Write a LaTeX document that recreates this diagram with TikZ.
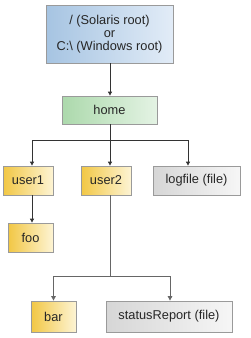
\documentclass[tikz,border=0pt]{standalone}
\usepackage{fontspec}
\setmainfont{Liberation Sans}
\usetikzlibrary{arrows.meta}
\definecolor{bluedark}{HTML}{A6C4E2}
\definecolor{bluelight}{HTML}{E2ECF7}
\definecolor{greendark}{HTML}{ACD9AC}
\definecolor{greenlight}{HTML}{E4F3E4}
\definecolor{yeldark}{HTML}{F2C744}
\definecolor{yellight}{HTML}{FDF4D4}
\definecolor{greydark}{HTML}{D6D6D6}
\definecolor{greylight}{HTML}{F6F6F6}
\definecolor{edge}{HTML}{9A9A9A}
\begin{document}
\begin{tikzpicture}[x=1pt,y=-1pt,
  box/.style={draw=edge, line width=0.8pt, rectangle, inner sep=0pt, align=center,
    font=\fontsize{12.8}{13}\selectfont, text=black!85},
  dirblue/.style={box, left color=bluedark, right color=bluelight},
  dirgreen/.style={box, left color=greendark, right color=greenlight},
  diryel/.style={box, left color=yeldark, right color=yellight},
  filegrey/.style={box, left color=greydark, right color=greylight},
  arr/.style={draw=black!80, line width=0.8pt, -{Triangle[length=4pt,width=4pt]}},
  arrg/.style={draw=black!60, line width=0.9pt, -{Triangle[length=4.5pt,width=4.5pt]}}
]
\useasboundingbox (0,0) rectangle (250,338);
\node[dirblue, minimum width=127pt, minimum height=58pt] (root) at (109.5,34)
  {/ (Solaris root)\\or\\C:\textbackslash\ (Windows root)};
\node[dirgreen, minimum width=95pt, minimum height=28pt] (home) at (109.5,110) {home};
\node[diryel, minimum width=50pt, minimum height=29pt] (user1) at (28,180.5) {user1};
\node[diryel, minimum width=50pt, minimum height=29pt] (user2) at (106,180.5) {user2};
\node[filegrey, minimum width=87pt, minimum height=29pt] (logfile) at (196.5,180.5) {logfile (file)};
\node[diryel, minimum width=45pt, minimum height=29pt] (foo) at (30.5,237.5) {foo};
\node[diryel, minimum width=45pt, minimum height=31pt] (bar) at (53.5,316.5) {bar};
\node[filegrey, minimum width=126pt, minimum height=31pt] (status) at (169,316.5) {statusReport (file)};

\coordinate (j1) at (110,140);
\coordinate (j2) at (110,276);

\draw[arr] (root.south -| j1) -- (home.north -| j1);
\draw[arr] (home.south -| j1) -- (j1) -| ([xshift=4pt]user1.north);
\draw[arr] (j1) -- (user2.north -| j1);
\draw[arr] (j1) -| ([xshift=-8.5pt]logfile.north);
\draw[arr] ([xshift=4pt]user1.south) -- ([xshift=4pt]user1.south |- foo.north);
\draw[arrg] (user2.south -| j2) -- (j2) -| (bar.north);
\draw[arrg] (j2) -| ([xshift=1pt]status.north);
\end{tikzpicture}
\end{document}
